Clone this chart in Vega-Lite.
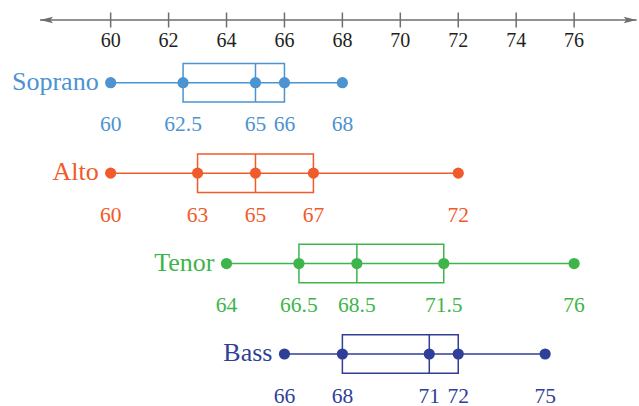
{
  "$schema": "https://vega.github.io/schema/vega-lite/v6.json",
  "width": 639,
  "height": 406,
  "autosize": "none",
  "padding": 0,
  "background": "white",
  "config": {"view": {"stroke": null}, "text": {"font": "Liberation Serif, Times New Roman, serif"}},
  "datasets": {
    "voices": [
      {"voice": "Soprano", "min": 60, "q1": 62.5, "median": 65, "q3": 66, "max": 68},
      {"voice": "Alto", "min": 60, "q1": 63, "median": 65, "q3": 67, "max": 72},
      {"voice": "Tenor", "min": 64, "q1": 66.5, "median": 68.5, "q3": 71.5, "max": 76},
      {"voice": "Bass", "min": 66, "q1": 68, "median": 71, "q3": 72, "max": 75}
    ],
    "ticks": [{"v": 60}, {"v": 62}, {"v": 64}, {"v": 66}, {"v": 68}, {"v": 70}, {"v": 72}, {"v": 74}, {"v": 76}],
    "line": [{"start": 57.56, "end": 78.16}],
    "arrows": [{"x": 57.56, "dir": "left"}, {"x": 78.16, "dir": "right"}]
  },
  "layer": [
    {
      "encoding": {
        "y": {"datum": "axis", "type": "nominal", "scale": {"type": "point", "domain": ["axis"], "range": [20, 20], "padding": 0}, "axis": null}
      },
      "layer": [
        {
          "data": {"name": "line"},
          "mark": {"type": "rule", "color": "#6d6e71", "strokeWidth": 1.5},
          "encoding": {
            "x": {"field": "start", "type": "quantitative", "scale": {"domain": [56.18, 78.24], "nice": false, "zero": false}, "axis": null},
            "x2": {"field": "end"}
          }
        },
        {
          "data": {"name": "ticks"},
          "mark": {"type": "tick", "orient": "vertical", "color": "#6d6e71", "size": 15, "thickness": 1.5, "opacity": 1},
          "encoding": {
            "x": {"field": "v", "type": "quantitative"}
          }
        },
        {
          "data": {"name": "ticks"},
          "mark": {"type": "text", "baseline": "alphabetic", "align": "center", "dy": 27, "fontSize": 20, "color": "#231f20", "font": "Liberation Serif, Times New Roman, serif"},
          "encoding": {
            "x": {"field": "v", "type": "quantitative"},
            "text": {"field": "v", "type": "quantitative", "format": "d"}
          }
        },
        {
          "data": {"name": "arrows"},
          "mark": {"type": "point", "filled": true, "size": 169, "opacity": 1, "color": "#6d6e71", "strokeWidth": 0},
          "encoding": {
            "x": {"field": "x", "type": "quantitative"},
            "shape": {"field": "dir", "type": "nominal", "scale": {"domain": ["left", "right"], "range": ["M0,0L2,-0.5L1.6,0L2,0.5Z", "M0,0L-2,-0.5L-1.6,0L-2,0.5Z"]}, "legend": null}
          }
        }
      ]
    },
    {
      "data": {"name": "voices"},
      "encoding": {
        "y": {"field": "voice", "type": "nominal", "scale": {"type": "point", "domain": ["Soprano", "Alto", "Tenor", "Bass"], "range": [82.7, 354], "padding": 0}, "axis": null},
        "color": {"field": "voice", "type": "nominal", "scale": {"domain": ["Soprano", "Alto", "Tenor", "Bass"], "range": ["#4b93d1", "#f15a2b", "#3db54a", "#2f3f98"]}, "legend": null}
      },
      "layer": [
        {
          "mark": {"type": "rule", "strokeWidth": 1.5},
          "encoding": {
            "x": {"field": "min", "type": "quantitative"},
            "x2": {"field": "max"}
          }
        },
        {
          "mark": {"type": "bar", "filled": false, "size": 38.5, "strokeWidth": 1.5},
          "encoding": {
            "x": {"field": "q1", "type": "quantitative"},
            "x2": {"field": "q3"}
          }
        },
        {
          "mark": {"type": "tick", "orient": "vertical", "size": 38.5, "thickness": 1.5, "opacity": 1},
          "encoding": {
            "x": {"field": "median", "type": "quantitative"}
          }
        },
        {
          "transform": [{"fold": ["min", "q1", "median", "q3", "max"], "as": ["stat", "val"]}],
          "mark": {"type": "point", "filled": true, "size": 125, "opacity": 1, "strokeWidth": 0},
          "encoding": {
            "x": {"field": "val", "type": "quantitative"}
          }
        },
        {
          "transform": [{"fold": ["min", "q1", "median", "q3", "max"], "as": ["stat", "val"]}],
          "mark": {"type": "text", "baseline": "alphabetic", "align": "center", "dy": 48.5, "fontSize": 21.5, "font": "Liberation Serif, Times New Roman, serif"},
          "encoding": {
            "x": {"field": "val", "type": "quantitative"},
            "text": {"field": "val", "type": "quantitative", "format": ".1~f"}
          }
        },
        {
          "mark": {"type": "text", "baseline": "alphabetic", "align": "right", "dx": -12, "dy": 7, "fontSize": 26, "font": "Liberation Serif, Times New Roman, serif"},
          "encoding": {
            "x": {"field": "min", "type": "quantitative"},
            "text": {"field": "voice", "type": "nominal"}
          }
        }
      ]
    }
  ],
  "resolve": {"scale": {"y": "independent"}}
}
